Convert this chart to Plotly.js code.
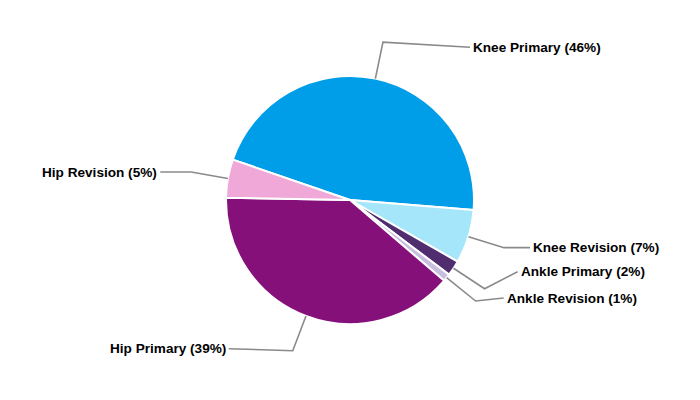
<!DOCTYPE html>
<html>
<head>
<meta charset="utf-8">
<script src="https://cdn.plot.ly/plotly-3.0.1.min.js"></script>
<style>html,body{margin:0;padding:0;background:#fff;}#chart{width:700px;height:400px;}</style>
</head>
<body>
<div id="chart"></div>
<script>
// ---- data ----
var categories = ["Knee Primary", "Knee Revision", "Ankle Primary", "Ankle Revision", "Hip Primary", "Hip Revision"];
var values = [46, 7, 2, 1, 39, 5];

// ---- styling ----
var colors = ["#009EE8", "#A5E6FA", "#4F2D6F", "#C8BEE0", "#86107A", "#F0A8D8"];
// label placement nudges relative to the computed elbow point (px): [dx, dy]
var labelNudge = [[89, 5], [28, 0], [35, -17], [30, -3], [-66, -2], [-33, 0]];

var W = 700, H = 400;
var cx = 350, cy = 200, R = 124;
var rotation = 289;

var total = values.reduce(function (a, b) { return a + b; }, 0);
var shapes = [], annotations = [];
var acc = 0;
function px(x) { return x / W; }
function py(y) { return 1 - y / H; }
values.forEach(function (v, i) {
  var mid = (rotation + (acc + v / 2) / total * 360) * Math.PI / 180;
  acc += v;
  var ex = cx + R * Math.sin(mid), ey = cy - R * Math.cos(mid);
  var bx = cx + R * 1.3 * Math.sin(mid), by = cy - R * 1.3 * Math.cos(mid);
  var right = labelNudge[i][0] > 0;
  var tx = bx + labelNudge[i][0], ty = by + labelNudge[i][1];
  var lx = right ? tx - 2 : tx + 2;
  shapes.push({
    type: "path", xref: "paper", yref: "paper",
    path: "M " + px(ex) + " " + py(ey) + " L " + px(bx) + " " + py(by) + " L " + px(lx) + " " + py(ty),
    line: { color: "#8a8a8a", width: 1.6 }
  });
  annotations.push({
    xref: "paper", yref: "paper", x: px(tx), y: py(ty),
    xanchor: right ? "left" : "right", yanchor: "middle",
    showarrow: false, borderpad: 0,
    text: "<b>" + categories[i] + " (" + Math.round(v / total * 100) + "%)</b>",
    font: { family: "Liberation Sans, Arial, sans-serif", size: 13.6, color: "#000" }
  });
});

var trace = {
  type: "pie",
  labels: categories,
  values: values,
  sort: false,
  direction: "clockwise",
  rotation: rotation,
  textinfo: "none",
  hoverinfo: "none",
  marker: { colors: colors, line: { color: "#ffffff", width: 2 } },
  domain: { x: [(cx - R) / W, (cx + R) / W], y: [1 - (cy + R) / H, 1 - (cy - R) / H] },
  showlegend: false
};

Plotly.newPlot("chart", [trace], {
  width: W, height: H,
  margin: { l: 0, r: 0, t: 0, b: 0 },
  paper_bgcolor: "#ffffff",
  showlegend: false,
  shapes: shapes,
  annotations: annotations
}, { displayModeBar: false, staticPlot: true });
</script>
</body>
</html>
